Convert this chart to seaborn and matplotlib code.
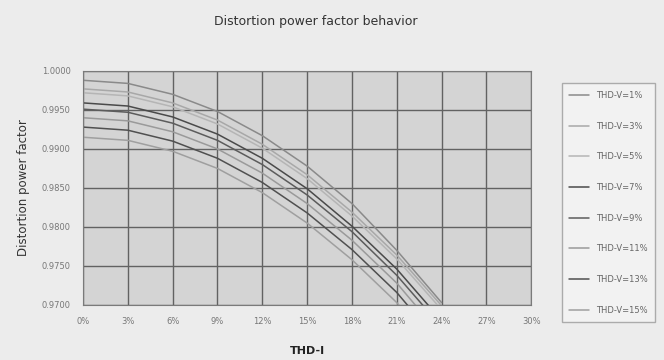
import numpy as np
import pandas as pd
import matplotlib
matplotlib.use("Agg")
import matplotlib.pyplot as plt
import seaborn as sns
from matplotlib.ticker import FuncFormatter, MultipleLocator

# THD-I values (%)
thd_i = [0, 3, 6, 9, 12, 15, 18, 21, 24]

# distortion power factor for each THD-V curve
dpf_v1 = [0.9988, 0.9984, 0.9970, 0.9948, 0.9917, 0.9878, 0.9830, 0.9770, 0.9703]
dpf_v3 = [0.9977, 0.9973, 0.9959, 0.9937, 0.9906, 0.9867, 0.9819, 0.9764, 0.9699]
dpf_v5 = [0.9972, 0.9968, 0.9954, 0.9932, 0.9901, 0.9862, 0.9814, 0.9759, 0.9694]
dpf_v7 = [0.9959, 0.9955, 0.9941, 0.9919, 0.9888, 0.9849, 0.9801, 0.9746, 0.9680]
dpf_v9 = [0.9951, 0.9947, 0.9933, 0.9911, 0.9880, 0.9841, 0.9794, 0.9738, 0.9672]
dpf_v11 = [0.9940, 0.9936, 0.9922, 0.9900, 0.9869, 0.9830, 0.9783, 0.9728, 0.9660]
dpf_v13 = [0.9928, 0.9924, 0.9910, 0.9888, 0.9857, 0.9818, 0.9771, 0.9716, 0.9648]
dpf_v15 = [0.9915, 0.9911, 0.9897, 0.9875, 0.9844, 0.9805, 0.9758, 0.9703, 0.9635]

labels = ["THD-V=1%", "THD-V=3%", "THD-V=5%", "THD-V=7%",
          "THD-V=9%", "THD-V=11%", "THD-V=13%", "THD-V=15%"]
series = [dpf_v1, dpf_v3, dpf_v5, dpf_v7, dpf_v9, dpf_v11, dpf_v13, dpf_v15]

rows = []
for lab, vals in zip(labels, series):
    for x, y in zip(thd_i, vals):
        rows.append({"THD-I": x, "DPF": y, "curve": lab})
df = pd.DataFrame(rows)

grays = ["#8a8a8a", "#a8a8a8", "#b5b5b5", "#4a4a4a",
         "#5c5c5c", "#9a9a9a", "#505050", "#9f9f9f"]

sns.set_style("white")
plt.rcParams["font.family"] = ["DejaVu Sans"]

fig = plt.figure(figsize=(6.64, 3.6), dpi=100, facecolor="#ececec")
ax = fig.add_axes([0.125, 0.153, 0.675, 0.65])
ax.set_facecolor("#d4d4d4")

sns.lineplot(data=df, x="THD-I", y="DPF", hue="curve", palette=grays,
             linewidth=1.1, ax=ax, legend=False)

ax.set_xlim(0, 30)
ax.set_ylim(0.97, 1.0)
ax.xaxis.set_major_locator(MultipleLocator(3))
ax.yaxis.set_major_locator(MultipleLocator(0.005))
ax.xaxis.set_major_formatter(FuncFormatter(lambda v, p: f"{v:.0f}%"))
ax.yaxis.set_major_formatter(FuncFormatter(lambda v, p: f"{v:.4f}"))
ax.grid(True, color="#626262", linewidth=1.0)
for s in ax.spines.values():
    s.set_color("#7a7a7a")
ax.tick_params(labelsize=6, colors="#8a8a8a", length=3, pad=6)
for t in ax.get_xticklabels() + ax.get_yticklabels():
    t.set_color("#777777")

ax.set_xlabel("THD-I", fontsize=8, fontweight="bold", color="#222222", labelpad=14)
ax.set_ylabel("Distortion power factor", fontsize=8.5, color="#333333", labelpad=8)
fig.text(0.475, 0.94, "Distortion power factor behavior", ha="center",
         va="center", fontsize=9, color="#333333")

handles = [plt.Line2D([], [], color=c, linewidth=1.1) for c in grays]
leg = fig.legend(handles, labels, loc="upper left", bbox_to_anchor=(0.84, 0.78),
                 fontsize=6, labelspacing=2.6, handlelength=2.4,
                 frameon=True, fancybox=False, borderpad=0.9)
leg.get_frame().set_edgecolor("#9a9a9a")
leg.get_frame().set_facecolor("#f4f4f4")
for t in leg.get_texts():
    t.set_color("#666666")

fig.savefig("out.png", dpi=100, facecolor=fig.get_facecolor())
